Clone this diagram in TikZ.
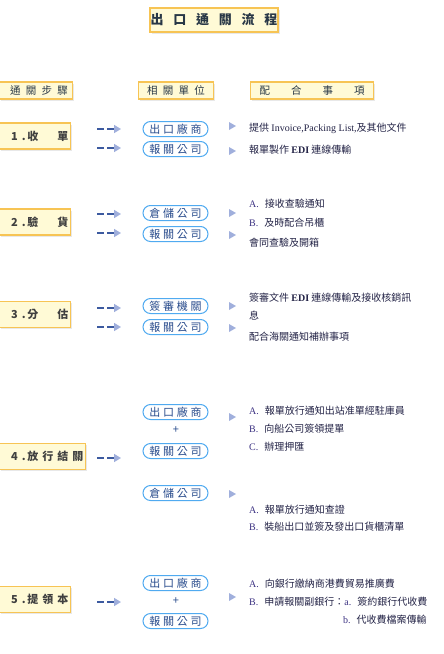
\documentclass[tikz,border=0pt]{standalone}
\usepackage{fontspec}
\setmainfont{Noto Sans CJK TC}
\newfontfamily\latinfont{Liberation Serif}
\newfontfamily\titlefont[LetterSpace=75]{Noto Sans CJK TC}
\newfontfamily\headfont[LetterSpace=50]{Noto Sans CJK TC}
\newfontfamily\stepfont[LetterSpace=36]{Noto Sans CJK TC}
\newfontfamily\unitfont[LetterSpace=25]{Noto Sans CJK TC}
\usepackage{tikz}
\usetikzlibrary{
  arrows.meta,
  positioning,
  shadows
}
\definecolor{boxyellow}{RGB}{255,250,214}
\definecolor{boxorange}{RGB}{247,196,84}
\definecolor{titleslate}{RGB}{40,55,70}
\definecolor{ovalblue}{RGB}{80,170,240}
\definecolor{unitnavy}{RGB}{40,75,140}
\definecolor{dashblue}{RGB}{60,90,160}
\definecolor{tipblue}{RGB}{160,175,220}
\definecolor{itemcol}{RGB}{35,35,70}
\definecolor{lettercol}{RGB}{60,50,130}
\tikzset{
  yellowbox/.style={draw=boxorange, line width=1.2pt, fill=boxyellow,
    inner sep=0pt, text=titleslate,
    drop shadow={shadow xshift=1.5pt, shadow yshift=-1.5pt, fill=black!18}},
  titlebox/.style={yellowbox, minimum width=128pt, minimum height=24pt,
    font={\titlefont\bfseries\fontsize{13pt}{15pt}\selectfont}},
  headbox/.style={yellowbox, minimum height=17pt, anchor=west,
    font={\headfont\fontsize{10.5pt}{12pt}\selectfont}},
  stepbox/.style={yellowbox, minimum width=71pt, minimum height=26pt,
    anchor=west, align=left, text width=64pt, inner xsep=0pt,
    font={\stepfont\bfseries\fontsize{11pt}{13pt}\selectfont}, text=black!75},
  unitbox/.style={draw=ovalblue, line width=1pt, fill=white,
    rounded corners=7.5pt, minimum width=65pt, minimum height=15pt,
    inner sep=0pt, text=unitnavy,
    font={\unitfont\fontsize{11pt}{13pt}\selectfont}},
  plus/.style={text=unitnavy, font=\fontsize{11pt}{13pt}\selectfont, inner sep=0pt},
  note/.style={anchor=west, inner sep=0pt, text=itemcol,
    font=\fontsize{10pt}{12pt}\selectfont},
  dasharr/.style={draw=dashblue, line width=1.6pt, dash pattern=on 7pt off 3pt,
    -{Triangle[length=7pt, width=8pt, color=tipblue, sep=4pt]}},
  pointer/.pic={\fill[tipblue] (0,-4) -- (7,0) -- (0,4) -- cycle;}
}
\newcommand{\Lt}[1]{{\latinfont\textcolor{lettercol}{#1.}}\hspace{6pt}}

\begin{document}
\begin{tikzpicture}[x=1pt, y=-1pt]
  \useasboundingbox (0,0) rectangle (444,654);

  % Title and column heads
  \node[titlebox] (title) at (214,20) {出口通關流程};
  \node[headbox, minimum width=73pt, text width=66pt, inner xsep=0pt]
    (hdstep) at (-1,90.5) {\hspace*{7pt}通關步驟};
  \node[headbox, minimum width=75pt] (hdunit) at (138,90.5) {相關單位};
  \node[headbox, minimum width=123pt] (hdnote) at (250,90.5) {配　合　事　項};

  % Steps
  \node[stepbox] (step1) at (-1,136) {\hspace*{8pt}1.\,收　單};
  \node[stepbox] (step2) at (-1,222) {\hspace*{8pt}2.\,驗　貨};
  \node[stepbox] (step3) at (-1,314.5) {\hspace*{8pt}3.\,分　估};
  \node[stepbox, minimum width=86pt, text width=79pt] (step4) at (-1,456.5)
    {\hspace*{8pt}4.\,放行結關};
  \node[stepbox] (step5) at (-1,599.5) {\hspace*{8pt}5.\,提領本};

  % Dashed arrows
  \foreach \y/\n in {129/1a, 148/1b, 214/2a, 233/2b, 308/3a, 327/3b,
                     458/4a, 602/5a} {
    \coordinate (ds\n) at (97,\y);
    \coordinate (de\n) at (125,\y);
    \draw[dasharr] (ds\n) -- (de\n);
  }

  % Units
  \node[unitbox] (u1a) at (175.5,129) {出口廠商};
  \node[unitbox] (u1b) at (175.5,149) {報關公司};
  \node[unitbox] (u2a) at (175.5,213) {倉儲公司};
  \node[unitbox] (u2b) at (175.5,234) {報關公司};
  \node[unitbox] (u3a) at (175.5,306) {簽審機關};
  \node[unitbox] (u3b) at (175.5,327) {報關公司};
  \node[unitbox] (u4a) at (175.5,412) {出口廠商};
  \node[plus] (p4) at (176,430) {+};
  \node[unitbox] (u4b) at (175.5,451) {報關公司};
  \node[unitbox] (u4c) at (175.5,493) {倉儲公司};
  \node[unitbox] (u5a) at (175.5,583) {出口廠商};
  \node[plus] (p5) at (176,601) {+};
  \node[unitbox] (u5b) at (175.5,621) {報關公司};

  % Pointers
  \foreach \y in {126,151,213,235,306,328,417,494,597}
    \pic at (229,\y) {pointer};

  % Notes
  \node[note] (n1a) at (249,128)
    {提供 {\latinfont Invoice,Packing List,}及其他文件};
  \node[note] (n1b) at (249,150)
    {報單製作 {\latinfont\bfseries EDI} 連線傳輸};
  \node[note] (n2a) at (249,204) {\Lt{A}接收查驗通知};
  \node[note] (n2b) at (249,223) {\Lt{B}及時配合吊櫃};
  \node[note] (n2c) at (249,243) {會同查驗及開箱};
  \node[note] (n3a) at (249,298)
    {簽審文件 {\latinfont\bfseries EDI} 連線傳輸及接收核銷訊};
  \node[note] (n3b) at (249,316) {息};
  \node[note] (n3c) at (249,337) {配合海關通知補辦事項};
  \node[note] (n4a) at (249,411) {\Lt{A}報單放行通知出站准單經駐庫員};
  \node[note] (n4b) at (249,429) {\Lt{B}向船公司簽領提單};
  \node[note] (n4c) at (249,447) {\Lt{C}辦理押匯};
  \node[note] (n4d) at (249,510) {\Lt{A}報單放行通知查證};
  \node[note] (n4e) at (249,527) {\Lt{B}裝船出口並簽及發出口貨櫃清單};
  \node[note] (n5a) at (249,584) {\Lt{A}向銀行繳納商港費貿易推廣費};
  \node[note] (n5b) at (249,602) {\Lt{B}申請報關副銀行：\Lt{a}簽約銀行代收費};
  \node[note] (n5c) at (343,620) {\Lt{b}代收費檔案傳輸};
\end{tikzpicture}
\end{document}
